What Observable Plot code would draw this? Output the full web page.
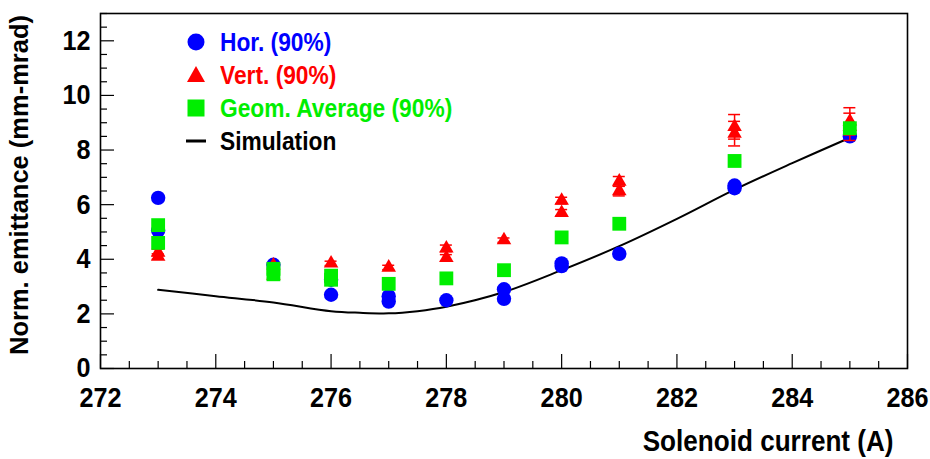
<!DOCTYPE html>
<html>
<head>
<meta charset="utf-8">
<script src="https://cdn.jsdelivr.net/npm/d3@7"></script>
<script src="https://cdn.jsdelivr.net/npm/@observablehq/plot@0.6"></script>
<style>
  body { margin: 0; background: #fff; }
  #wrap { position: relative; width: 930px; height: 459px; overflow: hidden; }
  .legend { position: absolute; left: 0; top: 0; font-family: "Liberation Sans", Arial, sans-serif; font-weight: bold; font-size: 25px; }
  .row { position: absolute; left: 184px; height: 30px; display: flex; align-items: center; white-space: nowrap; }
  .row svg { width: 24px; height: 24px; margin-right: 12px; flex: none; }
  .row span { display: inline-block; transform: scaleX(0.91); transform-origin: left center; }
</style>
</head>
<body>
<div id="wrap"></div>
<script>
// ---- data ----
const horX  = [273, 273, 275, 276, 276, 277, 277, 278, 279, 279, 280, 280, 281, 283, 283, 285];
const horY  = [6.25, 5.05, 3.8, 3.25, 2.7, 2.65, 2.45, 2.5, 2.9, 2.55, 3.85, 3.75, 4.2, 6.7, 6.6, 8.5];

const vertX   = [273, 273, 275, 275, 276, 277, 278, 278, 279, 280, 280, 281, 281, 283, 283, 285, 285];
const vertY   = [4.25, 4.1, 3.78, 3.4, 3.85, 3.7, 4.4, 4.05, 4.7, 6.15, 5.7, 6.85, 6.5, 8.85, 8.6, 9.05, 8.85];
const vertErr = [0.12, 0.1, 0.08, 0.08, 0.08, 0.08, 0.12, 0.12, 0.08, 0.12, 0.12, 0.18, 0.18, 0.45, 0.45, 0.5, 0.5];

const geomX = [273, 273, 275, 275, 276, 276, 277, 278, 279, 280, 281, 283, 285];
const geomY = [5.25, 4.6, 3.65, 3.45, 3.4, 3.25, 3.1, 3.3, 3.6, 4.8, 5.3, 7.6, 8.8];

const simX = [273, 274, 275, 276, 276.5, 277, 277.5, 278, 279, 280, 281, 282, 283, 284, 285];
const simY = [2.88, 2.65, 2.42, 2.1, 2.04, 2.02, 2.1, 2.26, 2.8, 3.6, 4.48, 5.48, 6.55, 7.52, 8.45];

const xTicks = [272, 274, 276, 278, 280, 282, 284, 286];
const yTicks = [0, 2, 4, 6, 8, 10, 12];
const xMinor = d3.range(272, 286.01, 0.5).filter(v => !xTicks.includes(v));
const yMinor = d3.range(0, 13.01, 0.5).filter(v => !yTicks.includes(v));

const seriesNames = ["Hor. (90%)", "Vert. (90%)", "Geom. Average (90%)", "Simulation"];
const seriesColors = ["#0000ff", "#ff0000", "#00ee00", "#000000"];
const xTitle = "Solenoid current (A)";
const yTitle = "Norm. emittance (mm-mrad)";

// ---- tables built from the arrays ----
const hor = horX.map((x, i) => ({x, y: horY[i]}));
const vert = vertX.map((x, i) => ({x, y: vertY[i], lo: vertY[i] - vertErr[i], hi: vertY[i] + vertErr[i]}));
const geom = geomX.map((x, i) => ({x, y: geomY[i]}));
const sim = simX.map((x, i) => ({x, y: simY[i]}));

const W = 930, H = 459, ML = 100, MR = 23, MT = 13, MB = 91;
const FW = W - ML - MR, FH = H - MT - MB;
const font = '"Liberation Sans", Arial, sans-serif';

const chart = Plot.plot({
  width: W, height: H,
  marginLeft: ML, marginRight: MR, marginTop: MT, marginBottom: MB,
  x: {domain: [272, 286]},
  y: {domain: [0, 13]},
  style: {fontFamily: font, background: "#fff", color: "#000", overflow: "visible"},
  marks: [
    Plot.axisX({ticks: xTicks, tickSize: 0, tickPadding: 19, fontSize: 28, fontWeight: "bold", label: null}),
    Plot.axisY({ticks: yTicks, tickSize: 0, tickPadding: 10, fontSize: 28, fontWeight: "bold", label: null}),
    Plot.ruleX(xTicks, {insetTop: FH - 14, stroke: "#000", strokeWidth: 1.2}),
    Plot.ruleX(xMinor, {insetTop: FH - 7, stroke: "#000", strokeWidth: 1.2}),
    Plot.ruleY(yTicks, {insetRight: FW - 14, stroke: "#000", strokeWidth: 1.2}),
    Plot.ruleY(yMinor, {insetRight: FW - 7, stroke: "#000", strokeWidth: 1.2}),
    Plot.frame({stroke: "#000", strokeWidth: 1.6}),
    Plot.line(sim, {x: "x", y: "y", stroke: seriesColors[3], strokeWidth: 2, curve: "catmull-rom"}),
    Plot.dot(hor, {x: "x", y: "y", r: 7.2, fill: seriesColors[0], symbol: "circle"}),
    Plot.ruleX(vert, {x: "x", y1: "lo", y2: "hi", stroke: seriesColors[1], strokeWidth: 1.5}),
    Plot.ruleY(vert, {y: "hi", x1: "x", x2: "x", insetLeft: -6, insetRight: -6, stroke: seriesColors[1], strokeWidth: 1.5}),
    Plot.ruleY(vert, {y: "lo", x1: "x", x2: "x", insetLeft: -6, insetRight: -6, stroke: seriesColors[1], strokeWidth: 1.5}),
    Plot.dot(vert, {x: "x", y: "y", r: 5.4, fill: seriesColors[1], symbol: "triangle"}),
    Plot.dot(geom, {x: "x", y: "y", r: 7.8, fill: seriesColors[2], symbol: "square"}),
    Plot.text([xTitle], {frameAnchor: "bottom-right", dx: -14, dy: 73, textAnchor: "end", lineAnchor: "middle", fontSize: 29, fontWeight: "bold", fill: "#000"}),
    Plot.text([yTitle], {frameAnchor: "left", rotate: -90, dx: -81, dy: -6, textAnchor: "middle", lineAnchor: "middle", fontSize: 25.5, fontWeight: "bold", fill: "#000"})
  ]
});

const wrap = document.getElementById("wrap");
wrap.appendChild(chart);

// narrow the horizontal texts (the reference uses a tall, condensed face)
chart.querySelectorAll("text").forEach(t => {
  if (t.textContent === yTitle) return;
  const bb = t.getBBox();
  const anchor = getComputedStyle(t).textAnchor;
  const ax = anchor === "end" ? bb.x + bb.width : anchor === "middle" ? bb.x + bb.width / 2 : bb.x;
  const ay = bb.y + bb.height / 2;
  const tr = t.getAttribute("transform") || "";
  t.setAttribute("transform", `${tr} translate(${ax},${ay}) scale(0.9,1) translate(${-ax},${-ay})`);
});

// ---- legend (inside the plot frame, top-left) ----
const legend = document.createElement("div");
legend.className = "legend";
const symbols = [
  '<circle cx="12" cy="12" r="8.5" fill="COL"/>',
  '<path d="M12,3 L21,19 L3,19 Z" fill="COL"/>',
  '<rect x="3.5" y="3.5" width="17" height="17" fill="COL"/>',
  '<rect x="2" y="10.5" width="20" height="3" fill="COL"/>'
];
const rowCenters = [42, 75, 108, 141];
seriesNames.forEach((name, i) => {
  const row = document.createElement("div");
  row.className = "row";
  row.style.top = (rowCenters[i] - 15) + "px";
  row.style.color = seriesColors[i];
  row.innerHTML = '<svg viewBox="0 0 24 24">' + symbols[i].replace("COL", seriesColors[i]) + '</svg><span>' + name + '</span>';
  legend.appendChild(row);
});
wrap.appendChild(legend);
</script>
</body>
</html>
